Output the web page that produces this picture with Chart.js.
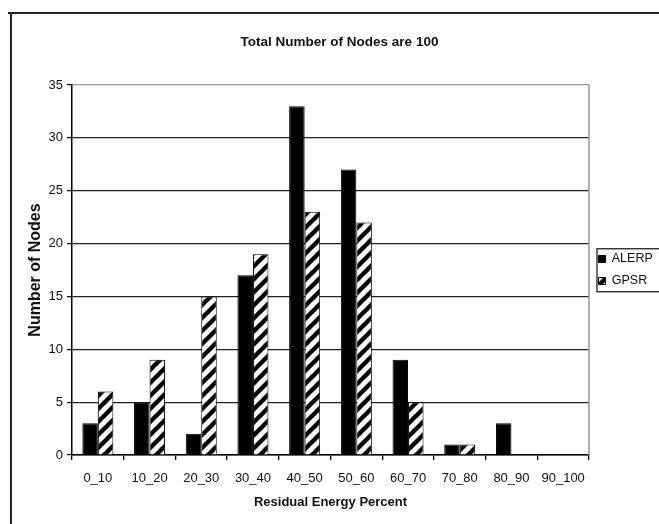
<!DOCTYPE html>
<html>
<head>
<meta charset="utf-8">
<title>Residual Energy Distribution</title>
<script src="https://cdn.jsdelivr.net/npm/chart.js@4.4.1/dist/chart.umd.min.js"></script>
<style>
  html, body { margin: 0; padding: 0; background: #fff; }
  #wrap { width: 659px; height: 524px; position: relative; }
</style>
</head>
<body>
<div id="wrap"><canvas id="chart" width="659" height="524"></canvas></div>
<script>
// Histogram of nodes by residual energy, ALERP vs GPSR
const chartTitle = 'Total Number of Nodes are 100';
const xAxisTitle = 'Residual Energy Percent';
const yAxisTitle = 'Number of Nodes';
const categories = ['0_10', '10_20', '20_30', '30_40', '40_50', '50_60', '60_70', '70_80', '80_90', '90_100'];
const alerpNodes = [3, 5, 2, 17, 33, 27, 9, 1, 3, 0];
const gpsrNodes  = [6, 9, 15, 19, 23, 22, 5, 1, 0, 0];
const yMin = 0, yMax = 35, yStep = 5;

const FONT = "'Liberation Sans', Arial, Helvetica, sans-serif";

// white tile with thick "/" stripes for the hatched series
function stripePattern() {
  const s = 13;
  const c = document.createElement('canvas');
  c.width = s; c.height = s;
  const g = c.getContext('2d');
  g.fillStyle = '#fff';
  g.fillRect(0, 0, s, s);
  g.strokeStyle = '#000';
  g.lineWidth = 4.4;
  for (const k of [-1, 0, 1]) {
    g.beginPath();
    g.moveTo(k * s - 2, s + 2);
    g.lineTo(k * s + s + 2, -2);
    g.stroke();
  }
  return g.createPattern(c, 'repeat');
}

// page frame, plot border and the boxed legend
const framePlugin = {
  id: 'frame',
  beforeDraw(chart) {
    const ctx = chart.ctx;
    ctx.save();
    ctx.fillStyle = '#fff';
    ctx.fillRect(0, 0, chart.width, chart.height);
    ctx.strokeStyle = '#222';
    ctx.lineWidth = 2;
    ctx.beginPath();
    ctx.moveTo(8, 13);
    ctx.lineTo(chart.width + 2, 13);
    ctx.moveTo(11, 13);
    ctx.lineTo(11, chart.height + 2);
    ctx.stroke();
    ctx.restore();
  },
  afterDraw(chart) {
    const ctx = chart.ctx;
    const a = chart.chartArea;
    ctx.save();
    ctx.strokeStyle = '#999';
    ctx.lineWidth = 1.5;
    ctx.beginPath();
    ctx.moveTo(a.right, a.top);
    ctx.lineTo(a.right, a.bottom);
    ctx.stroke();
    const hb = chart.legend.legendHitBoxes;
    if (hb && hb.length) {
      const last = hb[hb.length - 1];
      const x0 = a.right + 8;
      const y0 = hb[0].top - 4;
      const y1 = last.top + last.height + 4.5;
      ctx.strokeStyle = '#222';
      ctx.lineWidth = 1.3;
      ctx.strokeRect(x0, y0, chart.width + 20 - x0, y1 - y0);
    }
    ctx.restore();
  }
};

new Chart(document.getElementById('chart'), {
  type: 'bar',
  data: {
    labels: categories,
    datasets: [
      {
        label: 'ALERP',
        data: alerpNodes,
        backgroundColor: '#000',
        borderColor: '#000',
        borderWidth: 1
      },
      {
        label: 'GPSR',
        data: gpsrNodes,
        backgroundColor: stripePattern(),
        borderColor: '#000',
        borderWidth: 1
      }
    ]
  },
  options: {
    responsive: false,
    animation: false,
    devicePixelRatio: 1,
    layout: { padding: { left: 20, right: 0, top: 0, bottom: 0 } },
    datasets: { bar: { categoryPercentage: 0.6, barPercentage: 1.0 } },
    plugins: {
      title: {
        display: true,
        text: chartTitle,
        color: '#111',
        font: { family: FONT, size: 13.5, weight: 'bold', lineHeight: 1.2 },
        padding: { top: 34, bottom: 34.8 }
      },
      legend: {
        position: 'right',
        fullSize: false,
        maxWidth: 70,
        labels: {
          boxWidth: 7,
          boxHeight: 7,
          padding: 9.5,
          color: '#111',
          font: { family: FONT, size: 12.5 }
        }
      },
      tooltip: { enabled: false }
    },
    scales: {
      x: {
        grid: { offset: true, drawOnChartArea: false, drawTicks: true, tickLength: 5, color: '#000', lineWidth: 1.3 },
        border: { color: '#000', width: 1.5 },
        ticks: { color: '#111', padding: 11, font: { family: FONT, size: 13 }, maxRotation: 0 },
        title: {
          display: true,
          text: xAxisTitle,
          color: '#111',
          font: { family: FONT, size: 13, weight: 'bold', lineHeight: 1.2 },
          padding: { top: 0, bottom: 14 }
        },
        afterFit(scale) { scale.height = 69; }
      },
      y: {
        min: yMin,
        max: yMax,
        grid: {
          color: (c) => (c.tick && c.tick.value === yMax ? '#999' : '#222'),
          tickColor: '#000',
          lineWidth: 1.2,
          drawTicks: true,
          tickLength: 5
        },
        border: { color: '#000', width: 1.5 },
        ticks: { stepSize: yStep, color: '#111', padding: 4, font: { family: FONT, size: 13 } },
        title: {
          display: true,
          text: yAxisTitle,
          color: '#111',
          font: { family: FONT, size: 16, weight: 'bold', lineHeight: 1.2 },
          padding: { top: 6, bottom: 0 }
        },
        afterFit(scale) { scale.width = 52; }
      }
    }
  },
  plugins: [framePlugin]
});
</script>
</body>
</html>
